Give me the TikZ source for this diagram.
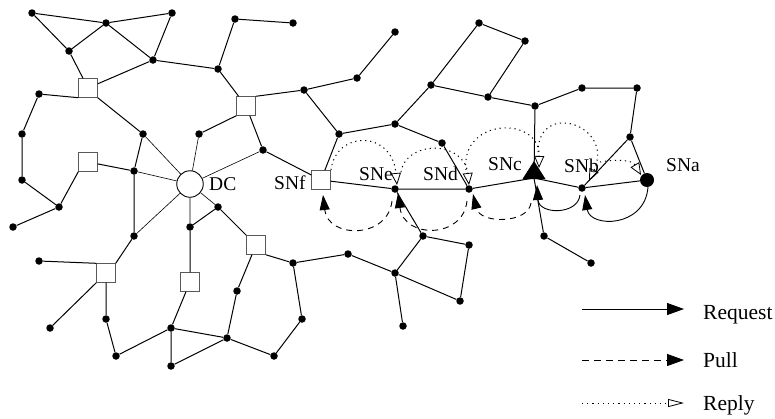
\documentclass[tikz,border=0pt]{standalone}
\usepackage{fontspec}
\setmainfont{Liberation Serif}
\usetikzlibrary{arrows.meta}
\begin{document}
\begin{tikzpicture}[x=1pt,y=-1pt,
  dot/.style={circle,fill=black,inner sep=0pt,minimum size=7.5pt},
  bigdot/.style={circle,fill=black,inner sep=0pt,minimum size=14pt},
  sq/.style={rectangle,draw=black!65,fill=white,line width=0.9pt,minimum size=18.5pt,inner sep=0pt},
  dcnode/.style={circle,draw=black,fill=white,line width=0.9pt,minimum size=26.5pt,inner sep=0pt},
  edge/.style={line width=1pt},
  spoke/.style={line width=0.6pt},
  lbl/.style={font=\fontsize{19.5}{20}\selectfont,inner sep=0pt,anchor=base west},
  leg/.style={font=\fontsize{21.5}{22}\selectfont,inner sep=0pt,anchor=base west},
  req/.style={line width=0.9pt,-{Triangle[length=15pt,width=10pt]}},
  pull/.style={line width=0.9pt,dash pattern=on 6pt off 5pt,-{Triangle[length=15pt,width=10pt]}},
  rep/.style={line width=1pt,dash pattern=on 1.2pt off 3.8pt,-{Triangle[open,length=12pt,width=10pt,line width=0.8pt]}}]
\useasboundingbox (0,0) rectangle (775,418);

% ordinary sensor nodes
\node[dot] (a1) at (32,13) {};
\node[dot] (a2) at (106,23) {};
\node[dot] (a3) at (172,13) {};
\node[dot] (a4) at (69,51) {};
\node[dot] (a5) at (153,60) {};
\node[dot] (a6) at (39,94) {};
\node[dot] (a7) at (235,19) {};
\node[dot] (a8) at (218,69) {};
\node[dot] (a9) at (22,134) {};
\node[dot] (a10) at (22,180) {};
\node[dot] (a11) at (143,134) {};
\node[dot] (a12) at (199,134) {};
\node[dot] (a13) at (134,171) {};
\node[dot] (a14) at (59,207) {};
\node[dot] (a15) at (218,207) {};
\node[dot] (a16) at (263,150) {};
\node[dot] (a17) at (134,236) {};
\node[dot] (a18) at (13,227) {};
\node[dot] (a19) at (39,261) {};
\node[dot] (a20) at (50,328) {};
\node[dot] (a21) at (106,319) {};
\node[dot] (a22) at (116,356) {};
\node[dot] (a23) at (171,328) {};
\node[dot] (a24) at (171,366) {};
\node[dot] (a25) at (227,338) {};
\node[dot] (a26) at (190,227) {};
\node[dot] (a27) at (237,291) {};
\node[dot] (a29) at (293,263) {};
\node[dot] (a30) at (302,319) {};
\node[dot] (a31) at (274,356) {};
\node[dot] (a32) at (348,254) {};
\node[dot] (a33) at (395,273) {};
\node[dot] (a34) at (423,236) {};
\node[dot] (a35) at (469,245) {};
\node[dot] (a36) at (460,301) {};
\node[dot] (a37) at (403,326) {};
\node[dot] (a38) at (293,23) {};
\node[dot] (a39) at (395,32) {};
\node[dot] (a40) at (357,78) {};
\node[dot] (a41) at (304,90) {};
\node[dot] (a42) at (339,134) {};
\node[dot] (a43) at (395,124) {};
\node[dot] (a44) at (442,143) {};
\node[dot] (a45) at (431,85) {};
\node[dot] (a46) at (479,23) {};
\node[dot] (a47) at (488,97) {};
\node[dot] (a48) at (525,41) {};
\node[dot] (a49) at (535,106) {};
\node[dot] (a50) at (582,88) {};
\node[dot] (a51) at (637,88) {};
\node[dot] (a52) at (630,137) {};
\node[dot] (a53) at (544,236) {};
\node[dot] (a54) at (591,263) {};

% square nodes
\node[sq] (S1) at (88,88) {};
\node[sq] (S2) at (246,106) {};
\node[sq] (S3) at (88,162) {};
\node[sq] (S4) at (106,273) {};
\node[sq] (S5) at (190,282) {};
\node[sq] (S6) at (256,245) {};
\node[sq] (SNf) at (321,180) {};

% special nodes
\node[dcnode] (DC) at (190,184) {};
\node[dot] (SNe) at (395,189) {};
\node[dot] (SNd) at (469,189) {};
\node[dot] (SNb) at (582,188) {};
\coordinate (SNc) at (534,178);
\node[bigdot] (SNa) at (647,180) {};

% edges
\draw[edge] (a1)--(a2) (a2)--(a3) (a1)--(a4) (a4)--(a2) (a2)--(a5) (a3)--(a5)
  (a4)--(S1) (S1)--(a5) (a5)--(a8) (a7)--(a8) (a7)--(a38) (a8)--(S2)
  (a6)--(S1.south west) (S1.south east)--(a11) (a11)--(a13)
  (a6)--(a9) (a9)--(a10) (a10)--(a14) (a14)--(a18) (S3.south west)--(a14) (S3)--(a13)
  (a12)--(S2.south west) (S2)--(a16) (a13)--(a17)
  (a17)--(S4.north east) (a19)--(S4.north west) (S4.south west)--(a20) (S4)--(a21)
  (a21)--(a22) (a22)--(a23) (a23)--(a24) (a23)--(a25) (a24)--(a25) (S5)--(a23)
  (a26)--(S5) (a26)--(a15) (a15)--(S6) (S6)--(a27) (a25)--(a27) (a25)--(a31)
  (S6.south east)--(a29) (a29)--(a30) (a30)--(a31) (a29)--(a32) (a32)--(a33)
  (a33)--(a34) (a34)--(a35) (a35)--(a36) (a33)--(a36) (a33)--(a37) (a34)--(SNe)
  (a39)--(a40) (a40)--(a41) (S2.north east)--(a41) (a41)--(a42) (a42)--(a43)
  (a43)--(a44) (a44)--(SNd) (a43)--(a45) (a45)--(a46) (a45)--(a47) (a46)--(a48)
  (a47)--(a48) (a47)--(a49) (a16)--(SNf) (SNf)--(a42) (SNf)--(SNe) (SNe)--(SNd)
  (SNd)--(SNc) (a49)--(SNc) (a49)--(a50) (a50)--(a51) (a51)--(a52) (a52)--(SNa)
  (a52)--(SNb) (SNc)--(SNb) (SNb)--(SNa) (a53)--(SNc) (a53)--(a54);

% spokes of DC
\draw[spoke] (DC)--(a11) (DC)--(a13) (DC)--(a12) (DC)--(a16) (DC)--(a17)
  (DC)--(a15) (DC)--(a26);

% request, pull and reply connectors
\coordinate (r1s) at (648,187); \coordinate (r1e) at (585,195);
\coordinate (r2s) at (580,195); \coordinate (r2e) at (537,185);
\coordinate (p1s) at (531,203); \coordinate (p1e) at (473,194);
\coordinate (p2s) at (467,201); \coordinate (p2e) at (398,193);
\coordinate (p3s) at (392,201); \coordinate (p3e) at (323,195);
\coordinate (y1s) at (331,170); \coordinate (y1e) at (397,185);
\coordinate (y2s) at (401,172); \coordinate (y2e) at (469,185);
\coordinate (y3s) at (466,170); \coordinate (y3e) at (539,168);
\coordinate (y4s) at (538,152); \coordinate (y4e) at (589,181);
\coordinate (y5s) at (600,162); \coordinate (y5e) at (641,175);

\draw[req] (r1s) .. controls (645,228) and (590,228) .. (r1e);
\draw[req] (r2s) .. controls (578,215) and (539,215) .. (r2e);
\draw[pull] (p1s) .. controls (528,224) and (480,224) .. (p1e);
\draw[pull] (p2s) .. controls (463,239) and (404,239) .. (p2e);
\draw[pull] (p3s) .. controls (388,239) and (328,239) .. (p3e);
\draw[rep] (y1s) .. controls (336,130) and (392,130) .. (y1e);
\draw[rep] (y2s) .. controls (406,140) and (464,140) .. (y2e);
\draw[rep] (y3s) .. controls (460,118) and (540,115) .. (y3e);
\draw[rep] (y4s) .. controls (538,100) and (615,125) .. (y4e);
\draw[rep] (y5s) .. controls (618,159) and (632,160) .. (y5e);

% SNc marker
\fill (534,161) -- (545.5,179) -- (522.5,179) -- cycle;

% labels
\node[lbl] (lDC) at (209,190) {DC};
\node[lbl] (lSNf) at (274,189) {SNf};
\node[lbl] (lSNe) at (359,180) {SNe};
\node[lbl] (lSNd) at (423,180) {SNd};
\node[lbl] (lSNc) at (488,170) {SNc};
\node[lbl] (lSNb) at (564,172) {SNb};
\node[lbl] (lSNa) at (666,171) {SNa};

% legend
\coordinate (g1s) at (582,309); \coordinate (g1e) at (684,309);
\coordinate (g2s) at (582,360); \coordinate (g2e) at (684,360);
\coordinate (g3s) at (582,403); \coordinate (g3e) at (684,403);
\draw[line width=0.9pt,-{Triangle[length=17pt,width=12pt]}] (g1s)--(g1e);
\draw[line width=0.9pt,dash pattern=on 7pt off 5pt,-{Triangle[length=17pt,width=12pt]}] (g2s)--(g2e);
\draw[line width=1pt,dash pattern=on 1.2pt off 4pt,-{Triangle[open,length=16pt,width=8pt,line width=0.8pt]}] (g3s)--(g3e);
\node[leg] (tReq) at (703,319) {Request};
\node[leg] (tPull) at (703,367) {Pull};
\node[leg] (tRep) at (703,410) {Reply};
\end{tikzpicture}
\end{document}
